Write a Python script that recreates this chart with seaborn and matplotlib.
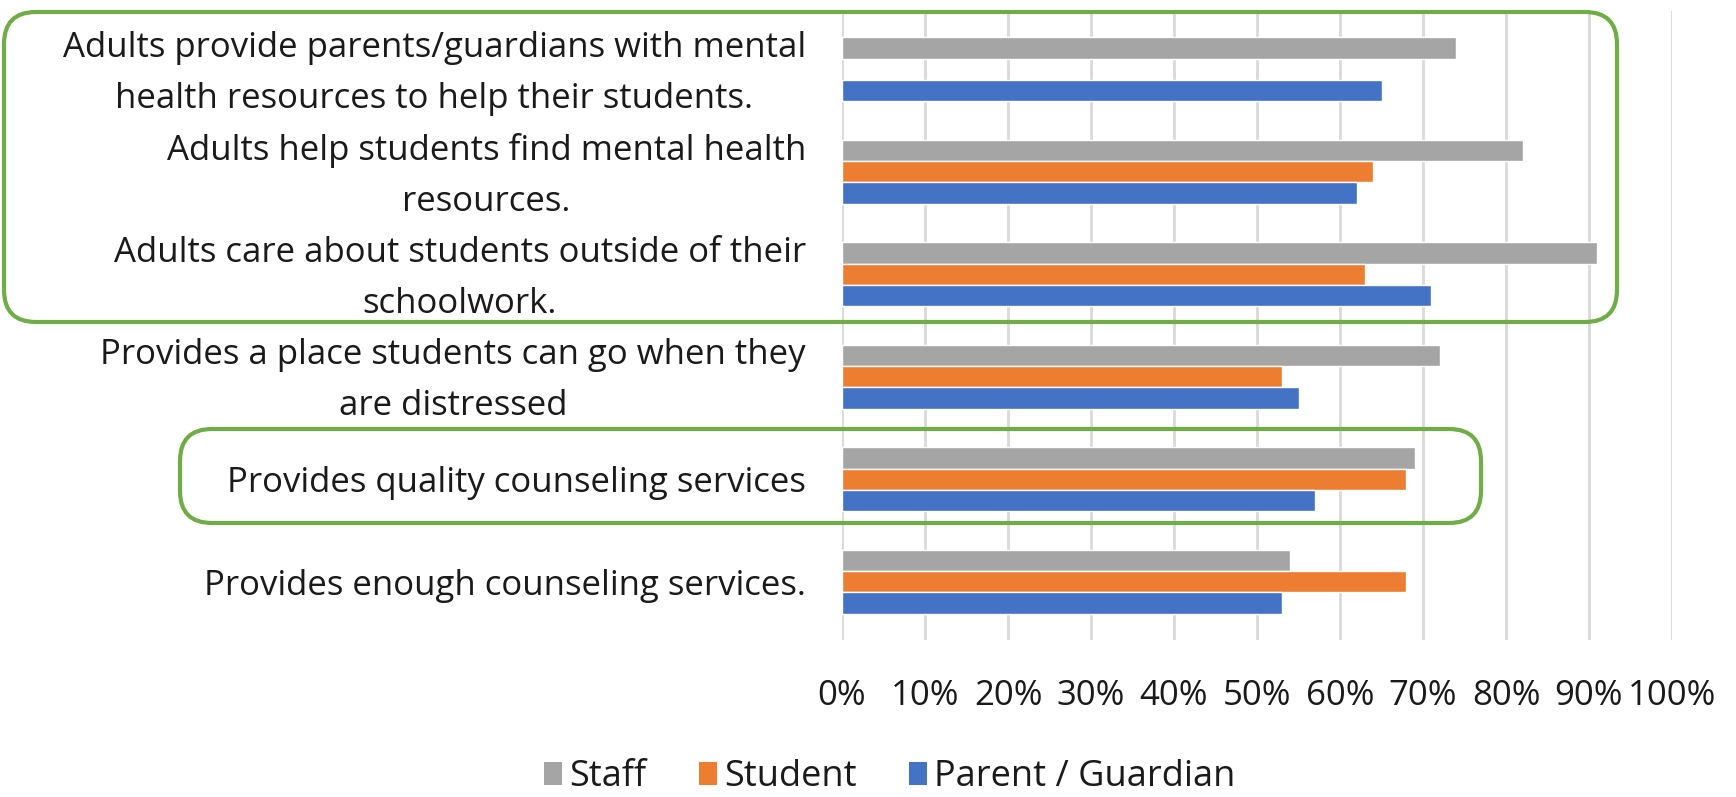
import numpy as np
import pandas as pd
import matplotlib
matplotlib.use("Agg")
import matplotlib.pyplot as plt
from matplotlib.patches import FancyBboxPatch, Patch
from matplotlib.transforms import IdentityTransform, ScaledTranslation
import seaborn as sns

# Survey statements (top to bottom)
statements = [
    "Adults provide parents/guardians with mental\nhealth resources to help their students.",
    "Adults help students find mental health\nresources.",
    "Adults care about students outside of their\nschoolwork.",
    "Provides a place students can go when they\nare distressed",
    "Provides quality counseling services",
    "Provides enough counseling services.",
]
groups = ["Staff", "Student", "Parent / Guardian"]

# Percent agreeing, per respondent group
staff = [74, 82, 91, 72, 69, 54]
student = [np.nan, 64, 63, 53, 68, 68]
parent = [65, 62, 71, 55, 57, 53]

x_ticks = [0, 10, 20, 30, 40, 50, 60, 70, 80, 90, 100]
tick_labels = [f"{t}%" for t in x_ticks]

palette = {"Staff": "#A5A5A5", "Student": "#ED7D31", "Parent / Guardian": "#4472C4"}

df = pd.DataFrame({
    "statement": statements * 3,
    "group": [g for g in groups for _ in statements],
    "pct": staff + student + parent,
})

sns.set_theme(style="white")
plt.rcParams["font.family"] = ["Open Sans", "DejaVu Sans"]

W, H = 1736, 797
fig = plt.figure(figsize=(W / 100, H / 100), dpi=100)
ax = fig.add_axes([842 / W, (H - 640) / H, 830 / W, 629 / H])

sns.barplot(data=df, x="pct", y="statement", hue="group", hue_order=groups,
            palette=palette, orient="h", width=0.62, saturation=1,
            order=statements, ax=ax, legend=False, zorder=3)

n = len(statements)
d = 0.068
ax.set_ylim(n - 0.5 + d, -0.5 - d)
ax.set_xlim(0, 100)
ax.set_xticks(x_ticks)
ax.set_xticklabels(tick_labels, fontsize=25, color="#1a1a1a")
ax.set_xlabel("")
ax.set_ylabel("")
ax.tick_params(axis="y", labelsize=25, pad=26, length=0, labelcolor="#1a1a1a")
ax.tick_params(axis="x", pad=28, length=0)
nudge = ScaledTranslation(0, -0.04, fig.dpi_scale_trans)
for lbl in ax.get_yticklabels():
    lbl.set_multialignment("center")
    lbl.set_linespacing(1.65)
    lbl.set_verticalalignment("center")
    lbl.set_transform(lbl.get_transform() + nudge)
ax.grid(axis="x", color="#D9D9D9", linewidth=2, zorder=0)
ax.grid(axis="y", visible=False)
for s in ax.spines.values():
    s.set_visible(False)

handles = [Patch(facecolor=palette[g], edgecolor="none", label=g) for g in groups]
fig.legend(handles=handles, loc="center", bbox_to_anchor=(890 / W, 1 - 777 / H),
           ncol=3, frameon=False, fontsize=26, handlelength=0.5, handleheight=0.6,
           handletextpad=0.2, columnspacing=1.45, labelcolor="#1a1a1a",
           borderpad=0.2)

# Highlight boxes around statement groups (pixel coordinates)
for x0, y_top, x1, y_bot in [(4, 12, 1617, 322), (180, 429, 1481, 523)]:
    box = FancyBboxPatch((x0, H - y_bot), x1 - x0, y_bot - y_top,
                         boxstyle="round,pad=0,rounding_size=32",
                         transform=IdentityTransform(), fill=False,
                         edgecolor="#70AD47", linewidth=3.0, zorder=10)
    fig.add_artist(box)

fig.savefig("out.png", dpi=100)
